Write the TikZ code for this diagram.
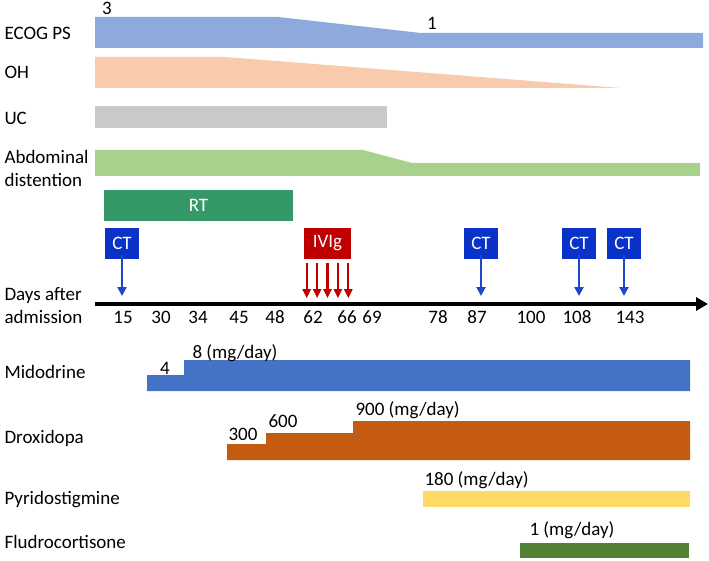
\documentclass[tikz,border=0pt]{standalone}
\usepackage{fontspec}
\setmainfont{Carlito}
\usepackage{xcolor}
\usepackage{tikz}
\usetikzlibrary{arrows.meta,positioning,calc}
\definecolor{ecogblue}{RGB}{142,169,219}
\definecolor{ohpeach}{RGB}{248,203,173}
\definecolor{ucgray}{RGB}{201,201,201}
\definecolor{abdgreen}{RGB}{169,209,142}
\definecolor{rtgreen}{RGB}{52,153,102}
\definecolor{ctblue}{RGB}{10,50,200}
\definecolor{ivigred}{RGB}{192,0,0}
\definecolor{arrowblue}{RGB}{30,70,200}
\definecolor{midoblue}{RGB}{68,114,196}
\definecolor{droxorange}{RGB}{197,90,17}
\definecolor{pyriyellow}{RGB}{255,217,102}
\definecolor{fludgreen}{RGB}{84,130,53}

\begin{document}
\begin{tikzpicture}[x=1pt,y=-1pt,font=\fontsize{19}{23}\selectfont,
  rowlabel/.style={anchor=west,align=left},
  exambox/.style={fill=ctblue,text=white,minimum width=34pt,minimum height=31pt,inner sep=0pt},
  exam/.style={->,>={Triangle[length=9pt,width=9pt]},arrowblue,line width=2pt},
  infusion/.style={->,>={Triangle[length=9pt,width=8pt]},ivigred,line width=2.2pt}]
\useasboundingbox (0,0) rectangle (709,561);
% symptom courses
\fill[ecogblue] (95,17) -- (278,17) -- (421,33) -- (703,33) -- (703,48) -- (95,48) -- cycle;
\fill[ohpeach] (95,57) -- (225,57) -- (621,88) -- (95,88) -- cycle;
\fill[ucgray] (95,106) rectangle (387,128);
\fill[abdgreen] (95,150) -- (363,150) -- (412,163) -- (700,163) -- (700,176) -- (95,176) -- cycle;
\node (ecog3) at (107,8) {3};
\node (ecog1) at (432,23) {1};
\node[rowlabel] (ecog) at (1,33) {ECOG PS};
\node[rowlabel] (oh) at (1,72) {OH};
\node[rowlabel] (uc) at (1,118) {UC};
\node[rowlabel] (abd) at (1,168) {Abdominal\\distention};
% RT, CT and IVIg
\node[fill=rtgreen,text=white,minimum width=189pt,minimum height=31pt,inner sep=0pt] (rt) at (198.5,205.5) {RT};
\foreach \x [count=\i] in {122,481,579,624}{
  \node[exambox] (ct\i) at (\x,243.5) {CT};
  \coordinate (ctend\i) at (\x,296);
  \draw[exam] (ct\i.south) ++(0,-4) -- (ctend\i);
}
\node[fill=ivigred,text=white,minimum width=47pt,minimum height=31pt,inner sep=0pt] (ivig) at (327.5,243.5) {IVIg};
\foreach \dx [count=\i] in {-20.8,-10.4,0,10.4,20.8}{
  \coordinate (ivigend\i) at ($(ivig.south)+(\dx,39)$);
  \draw[infusion] ($(ivig.south)+(\dx,4)$) -- (ivigend\i);
}
% time axis
\coordinate (tstart) at (95,304);
\coordinate (tend) at (708,304);
\draw[-{Triangle[length=12pt,width=13pt]},line width=4pt] (tstart) -- (tend);
\node[rowlabel] (days) at (1,306) {Days after\\admission};
\foreach \x/\d in {123/15,161/30,198/34,239/45,275/48,313/62,347/66,372/69,438/78,477/87,531/100,577/108,630/143}
  \node (day\d) at (\x,317) {\d};
% medication
\fill[midoblue] (147,391) -- (147,375) -- (184,375) -- (184,360) -- (690,360) -- (690,391) -- cycle;
\fill[droxorange] (227,460) -- (227,444) -- (266,444) -- (266,433) -- (353,433) -- (353,421) -- (690,421) -- (690,460) -- cycle;
\fill[pyriyellow] (423,491) rectangle (690,507);
\fill[fludgreen] (520,543) rectangle (689,558);
\node[rowlabel] (mido) at (1,372) {Midodrine};
\node[rowlabel] (drox) at (1,438) {Droxidopa};
\node[rowlabel] (pyri) at (1,500) {Pyridostigmine};
\node[rowlabel] (flud) at (1,542) {Fludrocortisone};
\node (mido4) at (165,368) {4};
\node[anchor=west] (mido8) at (189,353) {8 (mg/day)};
\node (drox300) at (243,434) {300};
\node (drox600) at (283,421) {600};
\node[anchor=west] (drox900) at (352,410) {900 (mg/day)};
\node[anchor=west] (pyri180) at (421,480) {180 (mg/day)};
\node[anchor=west] (flud1) at (526,530) {1 (mg/day)};
\end{tikzpicture}
\end{document}
